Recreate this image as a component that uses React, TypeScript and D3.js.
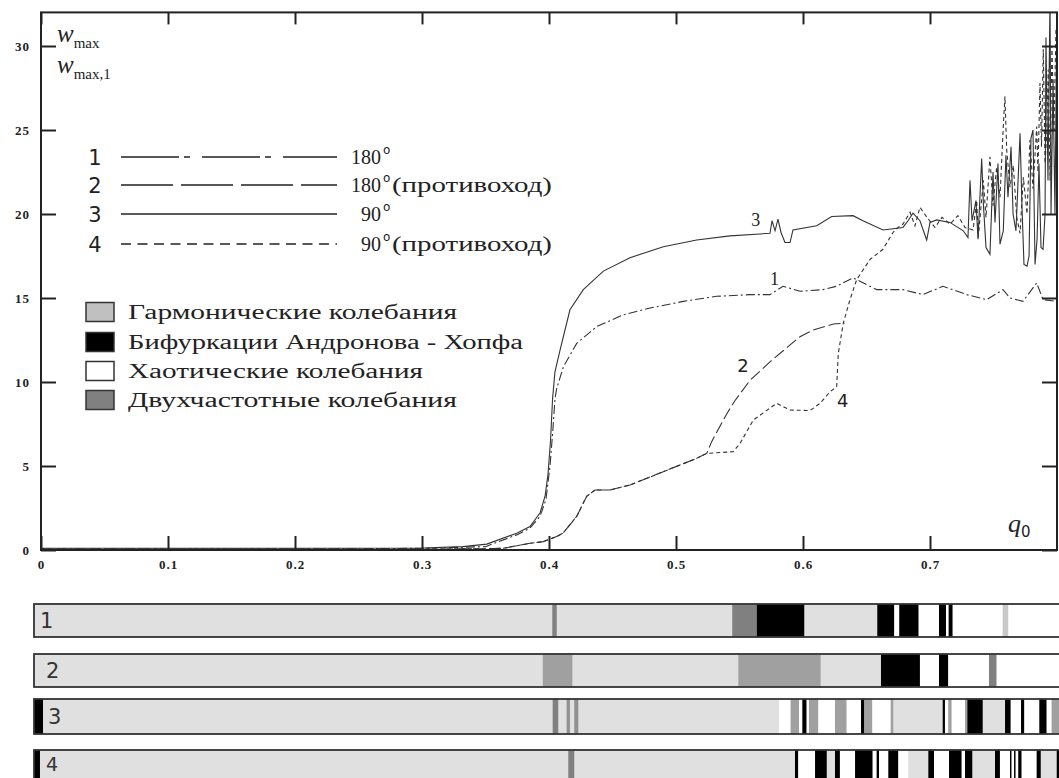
import React, { useEffect, useRef } from 'react';
import * as d3 from 'd3';

// axis ticks
const xTicks = [0, 0.1, 0.2, 0.3, 0.4, 0.5, 0.6, 0.7];
const yTicks = [0, 5, 10, 15, 20, 25, 30];

// curve 1: 180 deg
const curve1 = [
  [0, 0.05], [0.2, 0.05], [0.3, 0.1], [0.35, 0.2], [0.3746, 0.9], [0.385, 1.3], [0.3929, 2.0],
  [0.3976, 3.0], [0.4008, 5.0], [0.4029, 7.0], [0.4047, 9.0], [0.406, 9.6], [0.4113, 10.9],
  [0.4218, 12.3], [0.4376, 13.3], [0.4585, 14.0], [0.4795, 14.4], [0.5057, 14.8], [0.532, 15.1],
  [0.5583, 15.2], [0.574, 15.2], [0.5843, 15.7], [0.5976, 15.4], [0.6157, 15.5], [0.6265, 15.7],
  [0.6394, 16.2], [0.658, 15.5], [0.6787, 15.5], [0.6945, 15.2], [0.7102, 15.7], [0.7289, 15.2],
  [0.7447, 14.9], [0.7575, 15.5], [0.763, 15.0], [0.7732, 14.8], [0.784, 15.9], [0.789, 14.9],
  [0.8, 14.8],
];

// curve 2: 180 deg, counter-flow
const curve2 = [
  [0, 0.05], [0.2, 0.05], [0.3, 0.05], [0.354, 0.08], [0.364, 0.1], [0.385, 0.4], [0.3955, 0.5],
  [0.406, 0.8], [0.411, 1.0], [0.4218, 2.0], [0.4297, 3.2], [0.4362, 3.57], [0.448, 3.57],
  [0.4638, 3.87], [0.49, 4.66], [0.5163, 5.46], [0.5242, 5.75], [0.5281, 6.45], [0.5399, 8.1],
  [0.5465, 8.9], [0.5583, 10.1], [0.574, 11.2], [0.5976, 12.7], [0.6081, 13.1], [0.6239, 13.45],
  [0.6331, 13.5],
];

// curve 3: 90 deg
const curve3 = [
  [0, 0.1], [0.1, 0.1], [0.2, 0.1], [0.3, 0.12], [0.3323, 0.2], [0.351, 0.35], [0.3746, 1.0],
  [0.385, 1.4], [0.3929, 2.2], [0.3969, 3.2], [0.3992, 4.5], [0.4012, 6.5], [0.4028, 9.0],
  [0.4047, 10.6], [0.4087, 11.9], [0.4165, 14.3], [0.427, 15.5], [0.4428, 16.6], [0.4638, 17.4],
  [0.49, 18.05], [0.5163, 18.45], [0.5425, 18.7], [0.574, 18.85], [0.5756, 19.6], [0.578, 19.0],
  [0.5803, 19.7], [0.5827, 18.9], [0.5858, 18.3], [0.5898, 18.3], [0.5921, 19.05], [0.6108, 19.3],
  [0.6226, 19.85], [0.6394, 19.9], [0.6472, 19.6], [0.663, 19.05], [0.6787, 19.2], [0.6827, 19.6],
  [0.6866, 20.05], [0.6921, 19.6], [0.6974, 18.45], [0.7, 19.5], [0.7053, 19.65], [0.7157, 19.5],
  [0.7262, 19.0], [0.7299, 18.6], [0.7315, 22.0], [0.7331, 19.6], [0.7362, 20.8], [0.7378, 18.5],
  [0.7407, 23.3], [0.7421, 20.5], [0.7441, 18.0], [0.7472, 17.6], [0.7496, 22.5], [0.7512, 19.5],
  [0.7535, 23.0], [0.7551, 18.2], [0.7577, 19.0], [0.7598, 23.5], [0.7614, 21.0], [0.7638, 24.0],
  [0.7654, 20.0], [0.7677, 19.0], [0.7709, 24.8], [0.7724, 20.5], [0.774, 17.0], [0.7764, 16.9],
  [0.778, 17.5], [0.7795, 24.5], [0.7811, 25.0], [0.7827, 17.0], [0.7843, 18.5], [0.7858, 23.0],
  [0.7874, 18.0], [0.789, 17.9], [0.7906, 20.0], [0.7913, 30.5], [0.7929, 22.0], [0.7945, 33],
  [0.7953, 20.0], [0.7969, 28.0], [0.7984, 20.0], [0.8, 33],
];

// curve 4: 90 deg, counter-flow
const curve4 = [
  [0, 0.05], [0.2, 0.05], [0.3, 0.05], [0.354, 0.08], [0.364, 0.1], [0.385, 0.4], [0.3955, 0.5],
  [0.406, 0.8], [0.411, 1.0], [0.4218, 2.0], [0.4297, 3.2], [0.4362, 3.57], [0.448, 3.57],
  [0.4638, 3.87], [0.49, 4.66], [0.5163, 5.46], [0.5242, 5.75], [0.5451, 5.85], [0.5504, 6.35],
  [0.5609, 7.74], [0.5793, 8.73], [0.5898, 8.33], [0.6055, 8.3], [0.6134, 8.73], [0.6213, 9.42],
  [0.6265, 9.72], [0.6278, 11.7], [0.6317, 13.5], [0.637, 14.9], [0.6423, 16.1], [0.6528, 17.3],
  [0.663, 17.9], [0.6709, 18.9], [0.6748, 19.2], [0.6787, 19.4], [0.6843, 20.1], [0.6882, 19.3],
  [0.6921, 20.4], [0.6976, 19.8], [0.7039, 19.2], [0.7094, 19.8], [0.7157, 19.4], [0.722, 19.9],
  [0.7276, 19.2], [0.7339, 19.05], [0.7368, 20.8], [0.738, 18.6], [0.742, 22.0], [0.7441, 19.8],
  [0.7472, 23.4], [0.7496, 20.5], [0.7525, 22.8], [0.7551, 21.0], [0.7577, 25.2], [0.759, 27.0],
  [0.7604, 23.8], [0.763, 21.6], [0.7656, 22.9], [0.7683, 19.8], [0.7709, 18.85], [0.7735, 22.2],
  [0.7764, 20.0], [0.7787, 24.4], [0.7811, 21.5], [0.784, 25.2], [0.785, 22.5], [0.7866, 27.8],
  [0.7878, 24.0], [0.7892, 29.8], [0.7906, 23.0], [0.7919, 24.8], [0.7931, 28.6], [0.7945, 22.0],
  [0.796, 30.0], [0.7976, 25.0], [0.7992, 31.0],
];

// regime strips: [q0 from, q0 to, regime]; background = harmonic
const strip1 = [
  [0.4081, 0.4116, 'd'], [0.5498, 0.5691, 'd'], [0.5691, 0.6065, 'b'], [0.664, 0.6774, 'b'],
  [0.6774, 0.6813, 'c'], [0.6813, 0.6966, 'b'], [0.6966, 0.7126, 'c'], [0.7126, 0.7181, 'b'],
  [0.7181, 0.7202, 'c'], [0.7202, 0.7234, 'b'], [0.7234, 0.7628, 'c'], [0.7628, 0.7672, 'l'],
  [0.7672, 0.81, 'c'],
];
const strip2 = [
  [0.4006, 0.4239, 'm'], [0.5546, 0.6194, 'm'], [0.6669, 0.6976, 'b'], [0.6976, 0.7126, 'c'],
  [0.7126, 0.7199, 'b'], [0.7199, 0.752, 'c'], [0.752, 0.758, 'd'], [0.758, 0.81, 'c'],
];
const strip3 = [
  [0, 0.0071, 'b'], [0.4084, 0.4128, 'd'], [0.4194, 0.422, 'g'], [0.4254, 0.4286, 'g'],
  [0.5866, 0.5958, 'c'], [0.5958, 0.6024, 'm'], [0.6024, 0.605, 'c'], [0.605, 0.6084, 'b'],
  [0.6084, 0.6102, 'c'], [0.6102, 0.6176, 'm'], [0.6176, 0.6307, 'c'], [0.6307, 0.6399, 'm'],
  [0.6399, 0.6512, 'c'], [0.6512, 0.6538, 'b'], [0.6538, 0.6601, 'm'], [0.6601, 0.6746, 'c'],
  [0.6746, 0.6766, 'm'], [0.7155, 0.7173, 'b'], [0.7173, 0.7199, 'c'], [0.7199, 0.7226, 'm'],
  [0.7226, 0.7331, 'c'], [0.7331, 0.7349, 'm'], [0.7349, 0.747, 'b'], [0.7646, 0.7691, 'b'],
  [0.7691, 0.7772, 'c'], [0.7772, 0.7798, 'b'], [0.7798, 0.7916, 'c'], [0.7916, 0.7974, 'b'],
  [0.7974, 0.8013, 'c'], [0.8013, 0.81, 'm'],
];
const strip4 = [
  [0, 0.0047, 'b'], [0.4207, 0.4254, 'd'], [0.5992, 0.6018, 'b'], [0.6018, 0.615, 'c'],
  [0.615, 0.6242, 'b'], [0.6307, 0.6346, 'b'], [0.6346, 0.6465, 'c'], [0.6465, 0.6604, 'b'],
  [0.6604, 0.6635, 'c'], [0.6635, 0.6654, 'b'], [0.6654, 0.6727, 'c'], [0.6727, 0.6806, 'b'],
  [0.6806, 0.6884, 'c'], [0.7042, 0.7087, 'b'], [0.7087, 0.7205, 'c'], [0.7205, 0.7305, 'b'],
  [0.7305, 0.7331, 'c'], [0.7331, 0.7388, 'b'], [0.7567, 0.7606, 'b'], [0.7606, 0.7685, 'c'],
  [0.7685, 0.7698, 'b'], [0.7698, 0.7717, 'c'], [0.7717, 0.773, 'b'], [0.773, 0.775, 'c'],
  [0.775, 0.7777, 'b'], [0.7777, 0.7895, 'c'], [0.7895, 0.7927, 'b'], [0.8053, 0.81, 'b'],
];

const curveIds = ['1', '2', '3', '4'];
const angleLabels = ['180', '180', '90', '90'];
const angleNotes = ['', '(противоход)', '', '(противоход)'];
const regimeNames = [
  'Гармонические колебания',
  'Бифуркации Андронова - Хопфа',
  'Хаотические колебания',
  'Двухчастотные колебания',
];

const App = () => {
  const svgRef = useRef<SVGSVGElement>(null);

  useEffect(() => {
    const svg = d3.select(svgRef.current);
    svg.selectAll('*').remove();

    const ink = '#222';
    const serif = "'Liberation Serif', 'DejaVu Serif', serif";
    const sans = "'DejaVu Sans', sans-serif";

    const x = d3.scaleLinear().domain([0, 0.8]).range([41, 1057]);
    const y = d3.scaleLinear().domain([0, 32]).range([550, 12.4]);
    const xb = d3.scaleLinear().domain([0, 0.8]).range([34, 1050]);

    svg.append('rect').attr('width', 1059).attr('height', 778).attr('fill', '#fff');

    svg
      .append('clipPath')
      .attr('id', 'plotClip')
      .append('rect')
      .attr('x', x(0))
      .attr('y', y(32))
      .attr('width', x(0.8) - x(0))
      .attr('height', y(0) - y(32));

    // curves
    const curves = [curve1, curve2, curve3, curve4];
    const dashes = ['9,3,2,3', '12,4', null, '4,3'];
    const line = d3
      .line<number[]>()
      .x(d => x(d[0]))
      .y(d => y(d[1]));
    const cg = svg.append('g').attr('clip-path', 'url(#plotClip)');
    curves.forEach((c, i) => {
      cg.append('path')
        .datum(c)
        .attr('fill', 'none')
        .attr('stroke', '#333')
        .attr('stroke-width', 1.1)
        .attr('stroke-dasharray', dashes[i])
        .attr('d', line);
    });

    // axes
    const styleAxis = (g: any) => {
      g.select('.domain').remove();
      g.selectAll('.tick line').attr('stroke', ink).attr('stroke-width', 2);
      g.selectAll('.tick text')
        .attr('fill', ink)
        .attr('font-family', serif)
        .attr('font-weight', 'bold')
        .attr('font-size', 13)
        .attr('letter-spacing', 1);
    };
    svg
      .append('g')
      .attr('transform', `translate(${x(0)},0)`)
      .call(d3.axisLeft(y).tickValues(yTicks).tickSizeInner(-15).tickSizeOuter(0).tickPadding(11).tickFormat(d3.format('d')))
      .call(styleAxis);
    svg
      .append('g')
      .attr('transform', `translate(${x(0.8)},0)`)
      .call(d3.axisRight(y).tickValues(yTicks).tickSizeInner(-15).tickSizeOuter(0).tickFormat(() => ''))
      .call(styleAxis);
    svg
      .append('g')
      .attr('transform', `translate(0,${y(0)})`)
      .call(
        d3.axisBottom(x).tickValues(xTicks).tickSizeInner(-14).tickSizeOuter(0).tickPadding(10)
          .tickFormat((d: any) => (d === 0 ? '0' : d3.format('.1f')(d)))
      )
      .call(styleAxis);
    svg
      .append('g')
      .attr('transform', `translate(0,${y(32)})`)
      .call(d3.axisTop(x).tickValues(xTicks).tickSizeInner(-12).tickSizeOuter(0).tickFormat(() => ''))
      .call(styleAxis);

    svg
      .append('rect')
      .attr('x', x(0))
      .attr('y', y(32))
      .attr('width', x(0.8) - x(0))
      .attr('height', y(0) - y(32))
      .attr('fill', 'none')
      .attr('stroke', ink)
      .attr('stroke-width', 2);

    // axis titles
    const wLabel = (yy: number, sub: string) => {
      const t = svg.append('text').attr('x', 57).attr('y', yy).attr('fill', ink).attr('font-family', serif);
      t.append('tspan').attr('font-style', 'italic').attr('font-size', 25).text('w');
      t.append('tspan').attr('font-size', 15).attr('dy', 6).text(sub);
    };
    wLabel(42, 'max');
    wLabel(73, 'max,1');
    const qLabel = svg.append('text').attr('x', 1008).attr('y', 532).attr('fill', ink);
    qLabel.append('tspan').attr('font-family', serif).attr('font-style', 'italic').attr('font-size', 26).text('q');
    qLabel.append('tspan').attr('font-family', sans).attr('font-size', 15).attr('dy', 5).text('0');

    // curve labels inside the plot
    const curveLabelPos = [
      [0.5776, 15.8],
      [0.5528, 10.6],
      [0.5628, 19.3],
      [0.6313, 8.5],
    ];
    curveLabelPos.forEach((p, i) => {
      svg
        .append('text')
        .attr('x', x(p[0]))
        .attr('y', y(p[1]))
        .attr('text-anchor', 'middle')
        .attr('font-family', i % 2 === 0 ? serif : sans)
        .attr('font-size', 18)
        .attr('fill', ink)
        .text(curveIds[i]);
    });

    // line legend
    const legendDashes = ['58,5,6,12', '52,8', null, '10,6.5'];
    const rowY = [157, 185, 214, 244];
    curveIds.forEach((id, i) => {
      const yy = rowY[i];
      svg.append('text').attr('x', 95).attr('y', yy + 8).attr('text-anchor', 'middle')
        .attr('font-family', sans).attr('font-size', 21).attr('fill', ink).text(id);
      svg.append('line').attr('x1', 121).attr('x2', 337).attr('y1', yy).attr('y2', yy)
        .attr('stroke', ink).attr('stroke-width', 1.3).attr('stroke-dasharray', legendDashes[i]);
      svg.append('text').attr('x', 381).attr('y', yy + 7).attr('text-anchor', 'end')
        .attr('font-family', serif).attr('font-size', 20).attr('fill', ink).text(angleLabels[i]);
      svg.append('text').attr('x', 383).attr('y', yy - 3)
        .attr('font-family', sans).attr('font-size', 12).attr('fill', ink).text('o');
      if (angleNotes[i]) {
        svg.append('text').attr('x', 392).attr('y', yy + 7)
          .attr('font-family', serif).attr('font-size', 20).attr('fill', ink)
          .attr('textLength', 160).attr('lengthAdjust', 'spacingAndGlyphs').text(angleNotes[i]);
      }
    });

    // regime legend
    const regimeFill: Record<string, string> = {
      h: '#e0e0e0', b: '#000', c: '#fff', d: '#808080', m: '#a0a0a0', l: '#c8c8c8', g: '#909090',
    };
    const legendFill = ['#c0c0c0', '#000', '#fff', '#808080'];
    const regimeLen = [329, 395, 295, 329];
    const regY = [312, 342, 371, 400];
    regimeNames.forEach((name, i) => {
      svg.append('rect').attr('x', 86).attr('y', regY[i] - 9.5).attr('width', 28).attr('height', 19)
        .attr('fill', legendFill[i]).attr('stroke', '#333').attr('stroke-width', 1.5);
      svg.append('text').attr('x', 128).attr('y', regY[i] + 7)
        .attr('font-family', serif).attr('font-size', 20).attr('fill', ink)
        .attr('textLength', regimeLen[i]).attr('lengthAdjust', 'spacingAndGlyphs').text(name);
    });

    // regime strips
    const strips = [strip1, strip2, strip3, strip4];
    const stripTop = [604, 654, 699, 750];
    const stripH = [33, 33, 35, 40];
    const stripLabelX = [40, 46, 48, 46];
    const stripLabelDy = [24, 24, 25, 21];
    strips.forEach((s, i) => {
      const sg = svg.append('g');
      sg.append('rect').attr('x', xb(0)).attr('y', stripTop[i]).attr('width', xb(0.81) - xb(0))
        .attr('height', stripH[i]).attr('fill', regimeFill.h);
      sg.selectAll('rect.seg')
        .data(s)
        .enter()
        .append('rect')
        .attr('class', 'seg')
        .attr('x', (d: any) => xb(d[0]))
        .attr('y', stripTop[i])
        .attr('width', (d: any) => Math.max(xb(d[1]) - xb(d[0]), 1))
        .attr('height', stripH[i])
        .attr('fill', (d: any) => regimeFill[d[2]]);
      sg.append('rect').attr('x', xb(0)).attr('y', stripTop[i]).attr('width', xb(0.81) - xb(0))
        .attr('height', stripH[i]).attr('fill', 'none').attr('stroke', '#333').attr('stroke-width', 1.8);
      sg.append('text').attr('x', stripLabelX[i]).attr('y', stripTop[i] + stripLabelDy[i])
        .attr('font-family', sans).attr('font-size', i === 3 ? 19 : 21).attr('fill', '#333').text(curveIds[i]);
    });
  }, []);

  return (
    <div>
      <style>{'body{margin:0}'}</style>
      <svg ref={svgRef} width={1059} height={778} style={{ display: 'block' }} />
    </div>
  );
};

export default App;
